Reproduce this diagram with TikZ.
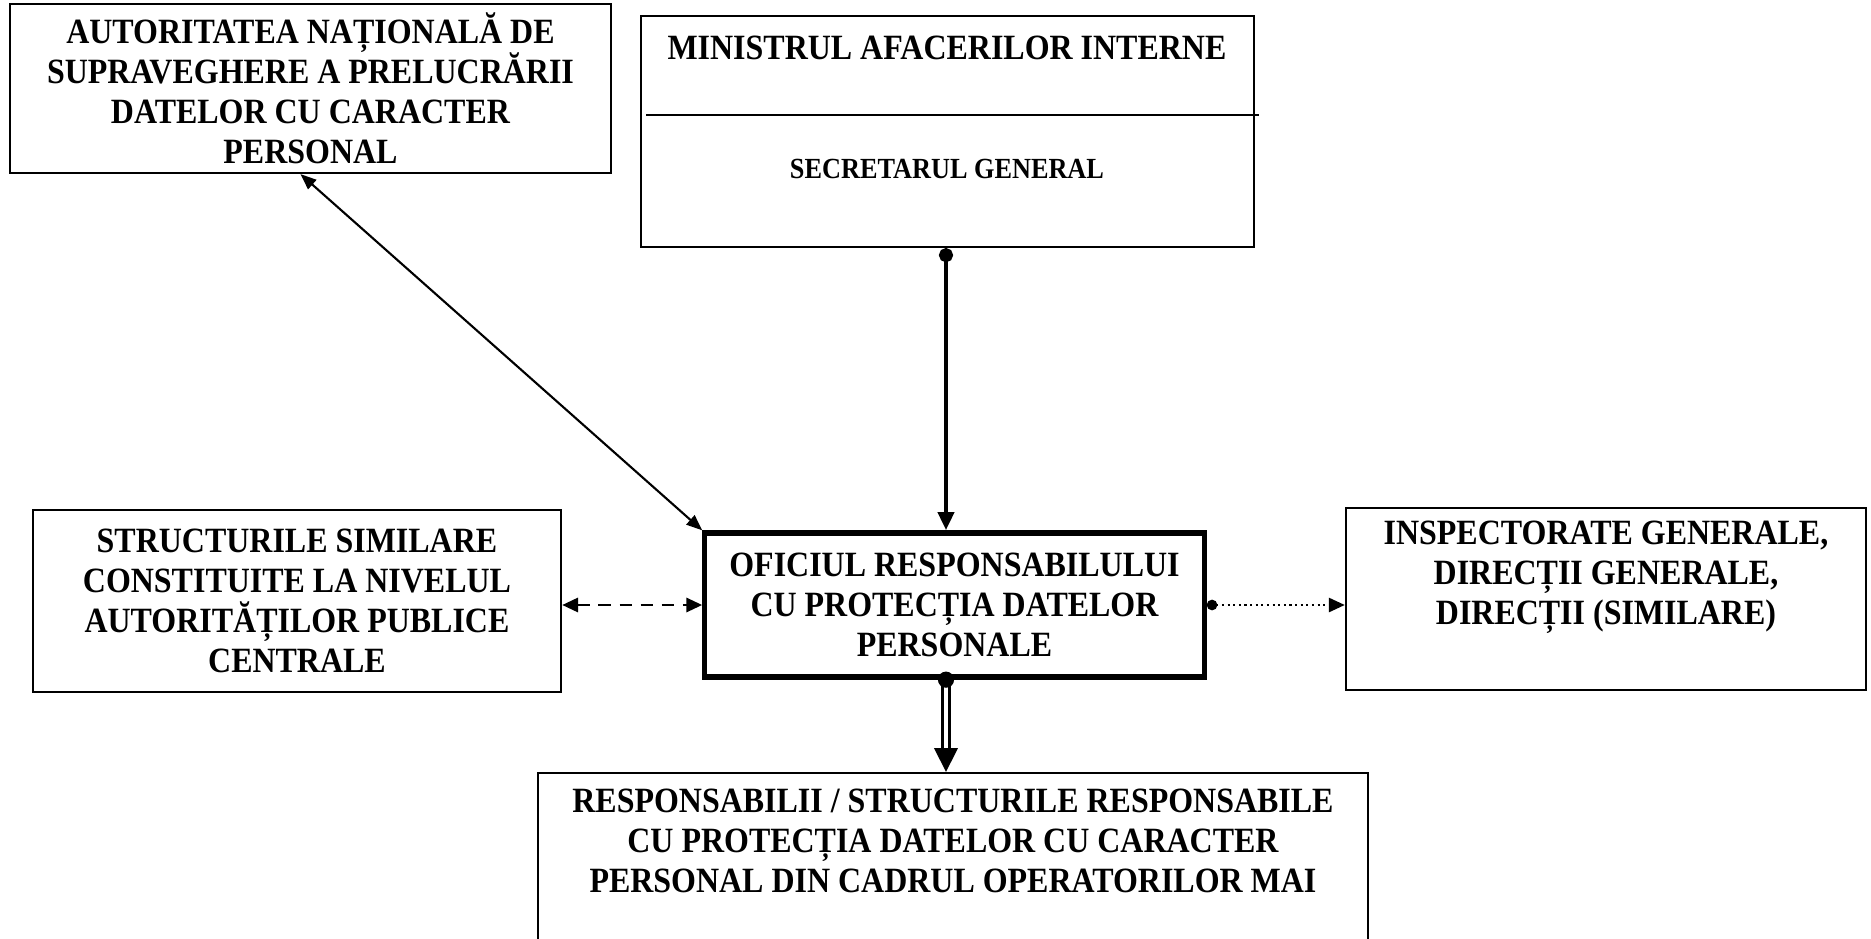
\documentclass[tikz,border=0pt]{standalone}
\usepackage{fontspec}
\setmainfont{Liberation Serif}[FakeStretch=0.9]
\usetikzlibrary{arrows.meta,positioning,calc}
\newcommand{\orgfont}{\fontsize{10.1}{11.4}\selectfont\bfseries}
\newcommand{\secfont}{\fontsize{8.3}{9}\selectfont\bfseries}
\tikzset{
  orgbox/.style={draw,line width=0.6pt,inner sep=0pt,align=center,font=\orgfont},
  orgtext/.style={inner sep=0pt,align=center,font=\orgfont},
}

\begin{document}
\begin{tikzpicture}[x=0.01cm,y=-0.01cm]
\useasboundingbox (0,0) rectangle (1871,939);

% top row
\node[orgbox,minimum width=6.01cm,minimum height=1.69cm] (anspdcp) at (310.5,88.5)
  {AUTORITATEA NAȚIONALĂ DE\\SUPRAVEGHERE A PRELUCRĂRII\\DATELOR CU CARACTER\\PERSONAL};
\node[orgbox,minimum width=6.13cm,minimum height=2.31cm] (mai) at (947.5,131.5) {};
\node[orgtext] (ministru) at (947,48) {MINISTRUL AFACERILOR INTERNE};
\node[orgtext,font=\secfont] (secgen) at (947,169) {SECRETARUL GENERAL};
\draw[line width=0.6pt] (646,115) -- (1259,115);

% middle row
\node[orgbox,minimum width=5.28cm,minimum height=1.82cm] (similare) at (297,601)
  {STRUCTURILE SIMILARE\\CONSTITUITE LA NIVELUL\\AUTORITĂȚILOR PUBLICE\\CENTRALE};
\node[orgbox,line width=1.5pt,minimum width=4.99cm,minimum height=1.44cm] (oficiu) at (954.5,605)
  {OFICIUL RESPONSABILULUI\\CU PROTECȚIA DATELOR\\PERSONALE};
\node[orgbox,minimum width=5.20cm,minimum height=1.82cm] (inspect) at (1606,599) {};
\node[orgtext] (insptext) at (1606,577)
  {INSPECTORATE GENERALE,\\DIRECȚII GENERALE,\\DIRECȚII (SIMILARE)};

% bottom
\node[orgbox,minimum width=8.30cm,minimum height=2.0cm,anchor=north] (operatori) at (953,772) {};
\node[orgtext] (optext) at (953,841)
  {RESPONSABILII / STRUCTURILE RESPONSABILE\\CU PROTECȚIA DATELOR CU CARACTER\\PERSONAL DIN CADRUL OPERATORILOR MAI};

% connectors
\coordinate (axis) at (946,0);
\draw[line width=1.3pt,{Circle[length=4pt]}-{Triangle[length=5.2pt,width=4.5pt]}]
  (mai.south -| axis) -- (oficiu.north -| axis);
\draw[line width=0.6pt,{Triangle[length=4.5pt,width=3.5pt]}-{Triangle[length=4.5pt,width=3.5pt]}]
  ([xshift=-0.1cm]anspdcp.south) -- (oficiu.north west);
\draw[line width=0.8pt,dash pattern=on 3.5pt off 2.5pt,{Triangle[length=4.5pt,width=4pt]}-{Triangle[length=4.5pt,width=4pt]}]
  (similare.east |- oficiu.west) -- (oficiu.west);
\draw[line width=0.6pt,densely dotted,{Circle[length=3pt]}-{Triangle[length=4.5pt,width=4pt]}]
  (oficiu.east) -- (inspect.west |- oficiu.east);
\draw[line width=0.85pt,double,double distance=0.9pt,-{Triangle[length=6.8pt,width=6.6pt]}]
  (oficiu.south -| axis) -- (operatori.north -| axis);
\fill (oficiu.south -| axis) circle (2.3pt);
\end{tikzpicture}
\end{document}
